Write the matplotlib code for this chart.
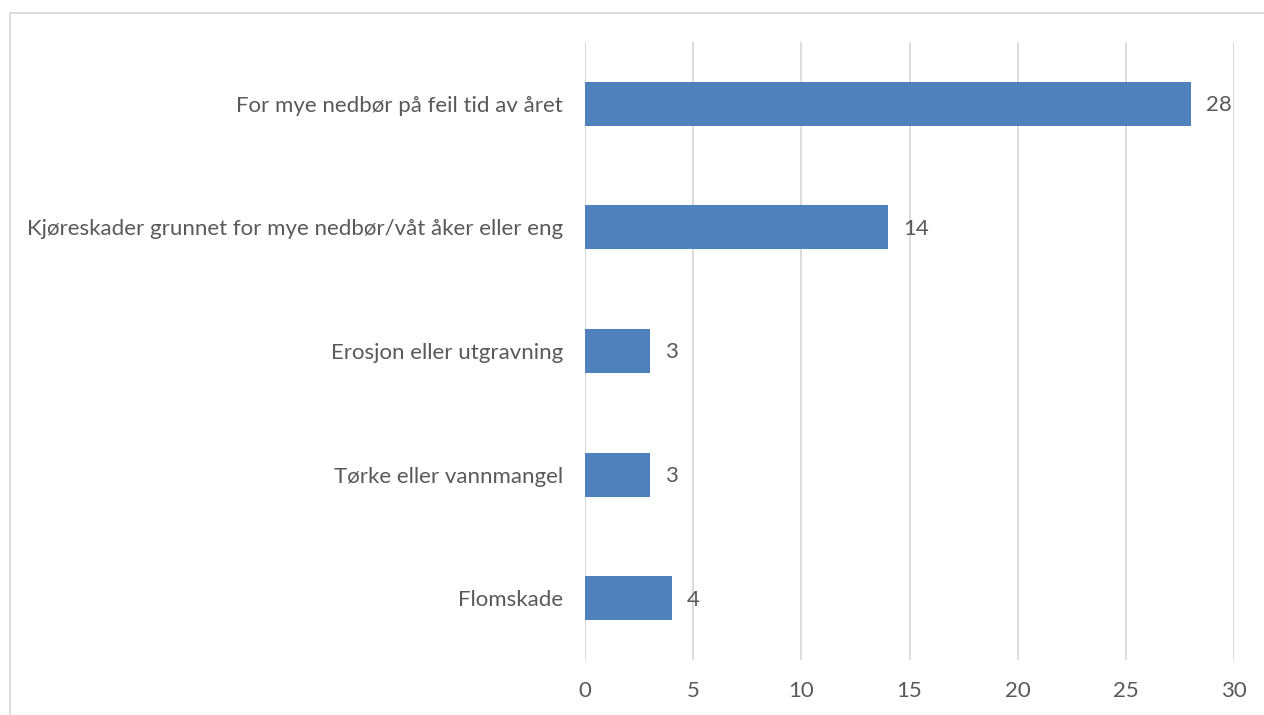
import matplotlib
matplotlib.use("Agg")
import matplotlib.pyplot as plt
from matplotlib.patches import Rectangle

categories = [
    "For mye nedbør på feil tid av året",
    "Kjøreskader grunnet for mye nedbør/våt åker eller eng",
    "Erosjon eller utgravning",
    "Tørke eller vannmangel",
    "Flomskade",
]
values = [28, 14, 3, 3, 4]
xticks = [0, 5, 10, 15, 20, 25, 30]

plt.rcParams['font.family'] = ['Lato', 'DejaVu Sans']
W, H = 1264, 715
fig = plt.figure(figsize=(W / 100, H / 100), dpi=100)
fig.patch.set_facecolor('white')

# outer chart border
fig.patches.append(Rectangle((10.5 / W, -0.05), 1.2, 1 - 12.5 / H + 0.05,
                             transform=fig.transFigure, fill=False,
                             edgecolor='#D9D9D9', linewidth=1.3))

ax = fig.add_axes([585 / W, 1 - 660 / H, (1234 - 585) / W, (660 - 42) / H])
text_color = '#595959'
fs = 16
ypos = list(range(len(categories)))
ax.barh(ypos, values, height=0.355, color='#4F81BD', zorder=3)
ax.set_ylim(4.5, -0.5)
ax.set_xlim(0, 30)
ax.set_xticks(xticks)
ax.set_xticklabels([str(t) for t in xticks])
ax.set_yticks(ypos)
ax.set_yticklabels(categories)
ax.tick_params(axis='both', length=0, labelsize=fs, labelcolor=text_color)
ax.tick_params(axis='y', pad=16)
ax.tick_params(axis='x', pad=15)
ax.grid(axis='x', color='#D9D9D9', linewidth=1.3, zorder=0)
for s in ax.spines.values():
    s.set_visible(False)

for y, v in zip(ypos, values):
    ax.annotate(str(v), (v, y), xytext=(11, -1), textcoords='offset points',
                ha='left', va='center', fontsize=fs, color=text_color)

fig.savefig('out.png', dpi=100)
